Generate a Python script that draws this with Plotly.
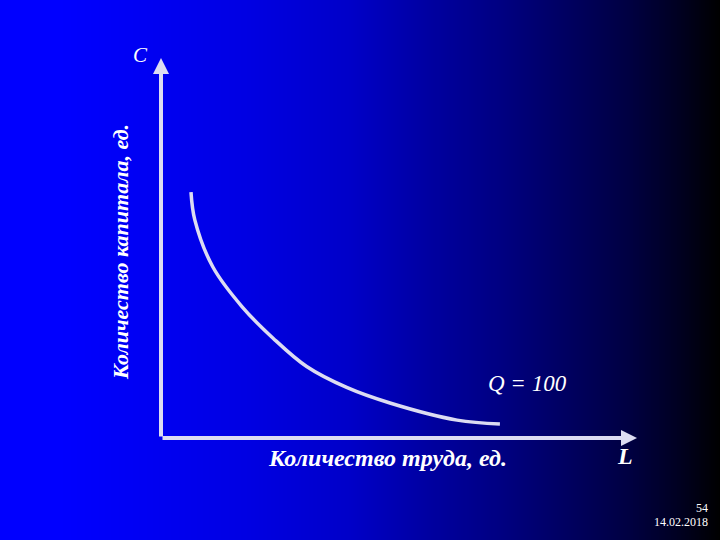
import numpy as np
import plotly.graph_objects as go

# Isoquant Q = 100 (labour L, capital C)
labour = [0.63, 0.71, 1.09, 1.70, 2.36, 3.06, 3.90, 4.81, 6.22, 7.12]
capital = [6.47, 5.74, 4.50, 3.46, 2.62, 1.88, 1.33, 0.92, 0.47, 0.37]

x_title = "Количество труда, ед."
y_title = "Количество капитала, ед."
curve_label = "Q = 100"
x_letter = "L"
y_letter = "C"
slide_no = "54"
slide_date = "14.02.2018"

# background gradient stops (pixel x, blue level)
grad_x = [0, 60, 150, 250, 350, 430, 500, 570, 630, 680, 710, 720]
grad_b = [255, 255, 242, 226, 200, 160, 130, 95, 65, 32, 8, 0]

W, H = 720, 540
px = np.arange(0, W + 1, 2)
blue = np.interp(px, grad_x, grad_b)

AX_COL = "#DCDCF2"
FONT = "Liberation Serif"

fig = go.Figure()
# background on the full-page axes (x / y)
fig.add_trace(go.Heatmap(
    x=px, y=[0, 1], z=[blue, blue], xaxis="x", yaxis="y",
    colorscale=[[0, "rgb(0,0,0)"], [1, "rgb(0,0,255)"]], zmin=0, zmax=255,
    showscale=False, hoverinfo="skip"))
# isoquant on the chart axes (x2 / y2)
fig.add_trace(go.Scatter(
    x=labour, y=capital, mode="lines", xaxis="x2", yaxis="y2",
    line=dict(color=AX_COL, width=3.5, shape="spline", smoothing=1.0),
    hoverinfo="skip", showlegend=False))

x0, x1 = 161, 637
y0, y1 = 438, 58
XMAX, YMAX = 10, 10

fig.update_layout(
    width=W, height=H, margin=dict(l=0, r=0, t=0, b=0),
    paper_bgcolor="black", plot_bgcolor="rgba(0,0,0,0)",
    showlegend=False,
    xaxis=dict(domain=[0, 1], range=[0, W], visible=False, fixedrange=True),
    yaxis=dict(domain=[0, 1], range=[0, 1], visible=False, anchor="x", fixedrange=True),
    xaxis2=dict(domain=[x0 / W, x1 / W], range=[0, XMAX], visible=False, anchor="y2"),
    yaxis2=dict(domain=[(H - y0) / H, (H - y1) / H], range=[0, YMAX], visible=False,
                anchor="x2"),
)

# axes arrows
for tip in [(XMAX, 0), (0, YMAX)]:
    fig.add_annotation(x=tip[0], y=tip[1], ax=0, ay=0, xref="x2", yref="y2",
                       axref="x2", ayref="y2", showarrow=True, text="",
                       arrowhead=2, arrowsize=0.8, arrowwidth=4, arrowcolor=AX_COL)

def txt(x, y, s, size, bold=False, italic=True, xanchor="center", angle=0):
    t = f"<i>{s}</i>" if italic else s
    if bold:
        t = f"<b>{t}</b>"
    fig.add_annotation(x=x / W, y=1 - y / H, xref="paper", yref="paper", text=t,
                       showarrow=False, xanchor=xanchor, yanchor="middle",
                       textangle=angle,
                       font=dict(family=FONT, size=size, color="white"))

txt(387, 458, x_title, 24, bold=True)
txt(120, 252, y_title, 22, bold=True, angle=-90)
txt(527, 383, curve_label, 23)
txt(140, 55, y_letter, 21)
txt(625, 456, x_letter, 24, bold=True)
txt(710, 508, slide_no, 12, italic=False, xanchor="right")
txt(710, 522, slide_date, 12, italic=False, xanchor="right")

fig.write_html("out.html", config={"displayModeBar": False},
               post_script="document.body.style.margin='0';document.body.style.overflow='hidden';")
